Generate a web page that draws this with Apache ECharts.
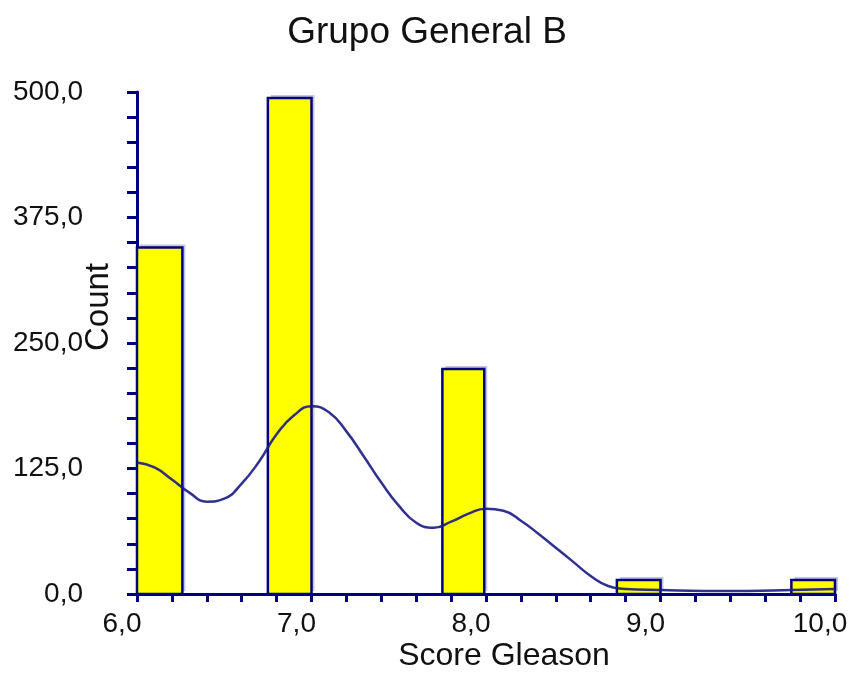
<!DOCTYPE html>
<html>
<head>
<meta charset="utf-8">
<title>Grupo General B</title>
<script src="https://cdn.jsdelivr.net/npm/echarts@6/dist/echarts.min.js"></script>
<style>
	html, body { margin: 0; padding: 0; background: #fff; }
	#chart { width: 854px; height: 675px; }
</style>
</head>
<body>
<div id="chart"></div>
<script>
	// barras del histograma (inicio del bin, ancho, conteo)
	var binStart = [6.0, 6.75, 7.75, 8.75, 9.75];
	var binWidth = [0.26, 0.25, 0.24, 0.25, 0.25];
	var counts = [345, 494, 224, 14, 14];

	var curveX = [6.0, 6.1, 6.2, 6.3, 6.4, 6.5, 6.6, 6.7, 6.8, 6.9, 7.0, 7.1, 7.2, 7.3, 7.4, 7.5,
		7.6, 7.7, 7.8, 7.9, 8.0, 8.1, 8.2, 8.3, 8.4, 8.5, 8.6, 8.7, 8.8, 9.0, 9.25, 9.5, 9.75, 10.0];
	var curveY = [131, 126, 114, 101, 92, 95, 110, 132, 159, 178, 187, 181, 162, 137, 111, 88,
		71, 66, 72, 80, 85, 83, 73, 60, 46, 32, 18, 8, 5, 4, 3, 3, 4, 5];

	var yTicks = [0, 125, 250, 375, 500];

	var font = "'Liberation Sans', Arial, sans-serif";
	var navy = '#000080';

	function fmt(v) {
		return v.toFixed(1).replace('.', ',');
	}

	var bars = binStart.map(function (s, i) {
		return [s, s + binWidth[i], counts[i]];
	});
	var curve = curveX.map(function (x, i) {
		return [x, curveY[i]];
	});

	var chart = echarts.init(document.getElementById('chart'));
	chart.setOption({
		backgroundColor: '#fff',
		animation: false,
		title: {
			text: 'Grupo General B',
			left: 'center',
			top: 9,
			textStyle: { fontFamily: font, fontSize: 37, fontWeight: 'normal', color: '#111' }
		},
		grid: { left: 137, right: 19, top: 92, bottom: 81, containLabel: false, outerBoundsMode: 'none' },
		xAxis: {
			type: 'value',
			min: 6,
			max: 10,
			interval: 0.2,
			name: 'Score Gleason',
			nameLocation: 'middle',
			nameGap: 46,
			nameMoveOverlap: false,
			nameTextStyle: { fontFamily: font, fontSize: 32, color: '#111', padding: [0, 0, 0, 36] },
			axisLine: { lineStyle: { color: navy, width: 3 } },
			axisTick: { length: 8, lineStyle: { color: navy, width: 3 } },
			splitLine: { show: false },
			axisLabel: {
				margin: 16,
				fontFamily: font,
				fontSize: 28,
				color: '#111',
				padding: [0, 30, 0, 0],
				formatter: function (v) {
					return Math.abs(v - Math.round(v)) < 1e-6 ? fmt(v) : '';
				}
			}
		},
		yAxis: {
			type: 'value',
			min: 0,
			max: 500,
			interval: 25,
			name: 'Count',
			nameLocation: 'middle',
			nameGap: 22,
			nameMoveOverlap: false,
			nameTextStyle: { fontFamily: font, fontSize: 33, color: '#111', padding: [0, 0, 0, 72] },
			axisLine: { show: true, lineStyle: { color: navy, width: 3 } },
			axisTick: { show: true, length: 10, lineStyle: { color: navy, width: 3 } },
			splitLine: { show: false },
			axisLabel: {
				margin: 54,
				fontFamily: font,
				fontSize: 28,
				color: '#111',
				formatter: function (v) {
					return yTicks.indexOf(v) >= 0 ? fmt(v) : '';
				}
			}
		},
		series: [
			{
				type: 'custom',
				data: bars,
				z: 2,
				renderItem: function (params, api) {
					var p0 = api.coord([api.value(0), api.value(2)]);
					var p1 = api.coord([api.value(1), 0]);
					var w = p1[0] - p0[0], h = p1[1] - p0[1];
					return {
						type: 'group',
						children: [
							{
								type: 'rect',
								shape: { x: p0[0] + 3, y: p0[1] - 3, width: w, height: h },
								style: { fill: '#c4c4e4' }
							},
							{
								type: 'rect',
								shape: { x: p0[0], y: p0[1], width: w, height: h },
								style: { fill: '#ffff00', stroke: navy, lineWidth: 2.5 }
							}
						]
					};
				}
			},
			{
				type: 'line',
				data: curve,
				smooth: 0.5,
				symbol: 'none',
				z: 3,
				lineStyle: { color: '#1a1a85', width: 2.5, opacity: 0.9 }
			}
		]
	});
</script>
</body>
</html>
